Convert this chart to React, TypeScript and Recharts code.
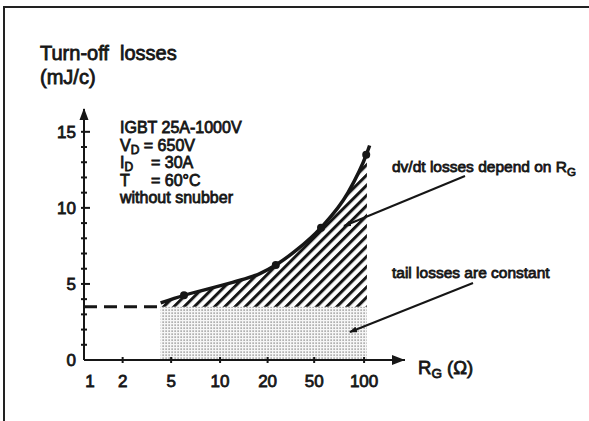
import React from 'react'
import { ComposedChart, Area, Line, XAxis, YAxis, ReferenceDot } from 'recharts'

// R_G axis: hand-drawn decades, ticks are not on a true log grid
const rgTicks = [1, 2, 5, 10, 20, 50, 100]
const tickSpots = [0, 0.68, 1.69, 2.71, 3.7, 4.67, 5.71]

const yTicks = [0, 1, 2, 3, 4, 5, 6, 7, 8, 9, 10, 11, 12, 13, 14, 15]
const yLabelled = [0, 5, 10, 15]

// turn-off loss curve (mJ/c) vs gate resistance (ohm)
const curveRg = [4.1, 6, 12, 18, 23.5, 35, 55, 80, 104, 108]
const curveLoss = [3.75, 4.25, 5.1, 5.7, 6.25, 7.2, 8.7, 11.0, 13.6, 14.1]

// measured points on the curve
const measuredRg = [6, 23.5, 55, 103]
const measuredLoss = [4.25, 6.25, 8.7, 13.5]

// constant tail losses
const tailLoss = 3.5
const tailRg = [4.1, 104]

const X_MIN = -0.125
const X_MAX = 6.5625
const Y_MAX = 16.5

const FONT = '"Liberation Sans", Arial, Helvetica, sans-serif'
const INK = '#161616'

function rgPos(r: number) {
  const l = Math.log10(r)
  let i = 0
  while (i < rgTicks.length - 2 && l > Math.log10(rgTicks[i + 1])) i++
  const l0 = Math.log10(rgTicks[i])
  const l1 = Math.log10(rgTicks[i + 1])
  return tickSpots[i] + ((l - l0) / (l1 - l0)) * (tickSpots[i + 1] - tickSpots[i])
}

const curveData = curveRg.map((r, i) => ({ x: rgPos(r), loss: curveLoss[i] }))
const dotData = measuredRg.map((r, i) => ({ x: rgPos(r), loss: measuredLoss[i] }))
const hatchData = curveRg
  .filter(r => r <= tailRg[1])
  .map(r => ({ x: rgPos(r), band: [tailLoss, curveLoss[curveRg.indexOf(r)]] }))
const tailData = tailRg.map(r => ({ x: rgPos(r), tail: tailLoss }))
const dashData = [
  { x: X_MIN, tail: tailLoss },
  { x: rgPos(tailRg[0]), tail: tailLoss },
]

const txt = { fontFamily: FONT, fill: INK, stroke: INK, strokeWidth: 0.8, style: { whiteSpace: 'pre' as const } }

const XTick = ({ x, y, index }: any) => (
  <g>
    {index > 0 && <line x1={x} x2={x} y1={y - 3} y2={y + 3} stroke={INK} strokeWidth={2} />}
    <text x={x} y={y + 27} textAnchor="middle" fontSize={17} {...txt}>
      {rgTicks[index]}
    </text>
  </g>
)

const YTick = ({ x, y, payload }: any) => {
  const v = payload.value
  const major = yLabelled.includes(v)
  return (
    <g>
      {v > 0 && <line x1={x - 3} x2={x + (major ? 6 : 3)} y1={y} y2={y} stroke={INK} strokeWidth={2} />}
      {major && (
        <text x={x - 8} y={y} dy="0.36em" textAnchor="end" fontSize={17} {...txt}>
          {v}
        </text>
      )}
    </g>
  )
}

const RightArrow = ({ cx, cy }: any) => (
  <path d={`M${cx},${cy} L${cx - 13},${cy - 5} L${cx - 13},${cy + 5} Z`} fill={INK} />
)
const UpArrow = ({ cx, cy }: any) => (
  <path d={`M${cx},${cy - 1} L${cx - 4.5},${cy + 11} L${cx + 4.5},${cy + 11} Z`} fill={INK} />
)

export default function App() {
  return (
    <div style={{ position: 'relative', width: 589, height: 421, background: '#fff' }}>
      <style>{'body{margin:0}'}</style>
      <ComposedChart width={589} height={421} margin={{ top: 109, right: 184, bottom: 31, left: 44 }}>
        <defs>
          <pattern id="hatch" patternUnits="userSpaceOnUse" width={7.2} height={7.2} patternTransform="rotate(45)">
            <rect x={0} y={0} width={3} height={7.2} fill={INK} />
          </pattern>
          <pattern id="stipple" patternUnits="userSpaceOnUse" width={3} height={3}>
            <rect x={0} y={0} width={3} height={3} fill="#f6f6f6" />
            <rect x={0.5} y={0.5} width={1.2} height={1.2} fill="#6a6a6a" />
          </pattern>
        </defs>
        <XAxis
          type="number"
          dataKey="x"
          domain={[X_MIN, X_MAX]}
          ticks={tickSpots}
          interval={0}
          allowDataOverflow
          height={30}
          tickSize={0}
          tickMargin={0}
          tickLine={false}
          axisLine={{ stroke: INK, strokeWidth: 2 }}
          tick={<XTick />}
        />
        <YAxis
          type="number"
          domain={[0, Y_MAX]}
          ticks={yTicks}
          interval={0}
          allowDataOverflow
          width={40}
          tickSize={0}
          tickMargin={0}
          tickLine={false}
          axisLine={{ stroke: INK, strokeWidth: 2 }}
          tick={<YTick />}
        />
        <Area data={tailData} dataKey="tail" type="linear" fill="url(#stipple)" fillOpacity={1} stroke="none" isAnimationActive={false} />
        <Area data={hatchData} dataKey="band" type="monotone" fill="url(#hatch)" fillOpacity={1} stroke="none" isAnimationActive={false} />
        <Line data={dashData} dataKey="tail" type="linear" stroke={INK} strokeWidth={3} strokeDasharray="13 7" dot={false} isAnimationActive={false} />
        <Line data={curveData} dataKey="loss" type="monotone" stroke={INK} strokeWidth={3.5} dot={false} isAnimationActive={false} />
        <Line data={dotData} dataKey="loss" stroke="none" dot={{ r: 4, fill: INK, stroke: 'none' }} isAnimationActive={false} />
        <ReferenceDot x={X_MAX} y={0} r={0} ifOverflow="visible" shape={<RightArrow />} />
        <ReferenceDot x={X_MIN} y={Y_MAX} r={0} ifOverflow="visible" shape={<UpArrow />} />
      </ComposedChart>

      <svg width={589} height={421} style={{ position: 'absolute', left: 0, top: 0, pointerEvents: 'none' }}>
        <defs>
          <marker id="tip" markerWidth={8} markerHeight={6} refX={7} refY={3} orient="auto" markerUnits="userSpaceOnUse">
            <path d="M0,0 L8,3 L0,6 Z" fill={INK} />
          </marker>
        </defs>
        {/* frame */}
        <line x1={3} y1={7} x2={589} y2={7} stroke="#222" strokeWidth={2} />
        <line x1={4} y1={6} x2={4} y2={421} stroke="#222" strokeWidth={2} />

        <text x={40} y={60} fontSize={20} {...txt}>{'Turn-off  losses'}</text>
        <text x={40} y={84} fontSize={20} {...txt}>(mJ/c)</text>

        <g fontSize={16}>
          <text x={120} y={133} {...txt}>IGBT 25A-1000V</text>
          <text x={120} y={151} {...txt}>
            V<tspan fontSize={12} dy={3}>D</tspan>
            <tspan dy={-3}> = 650V</tspan>
          </text>
          <text x={120} y={168} {...txt}>
            I<tspan fontSize={12} dy={3}>D</tspan>
            <tspan x={151} dy={-3}>= 30A</tspan>
          </text>
          <text x={120} y={186} {...txt}>
            T<tspan x={151}>= 60°C</tspan>
          </text>
          <text x={120} y={203} {...txt}>without snubber</text>
        </g>

        <text x={392} y={172} fontSize={15.5} {...txt}>
          dv/dt losses depend on R<tspan fontSize={11.5} dy={4}>G</tspan>
        </text>
        <text x={392} y={278} fontSize={15.5} {...txt}>tail losses are constant</text>

        <line x1={465} y1={176} x2={344} y2={226} stroke={INK} strokeWidth={2} markerEnd="url(#tip)" />
        <line x1={473} y1={283} x2={350} y2={332} stroke={INK} strokeWidth={2} markerEnd="url(#tip)" />

        <text x={418} y={374} fontSize={18.5} {...txt}>
          R<tspan fontSize={13.5} dy={4}>G</tspan>
          <tspan dy={-4}>{' (Ω)'}</tspan>
        </text>
      </svg>
    </div>
  )
}
